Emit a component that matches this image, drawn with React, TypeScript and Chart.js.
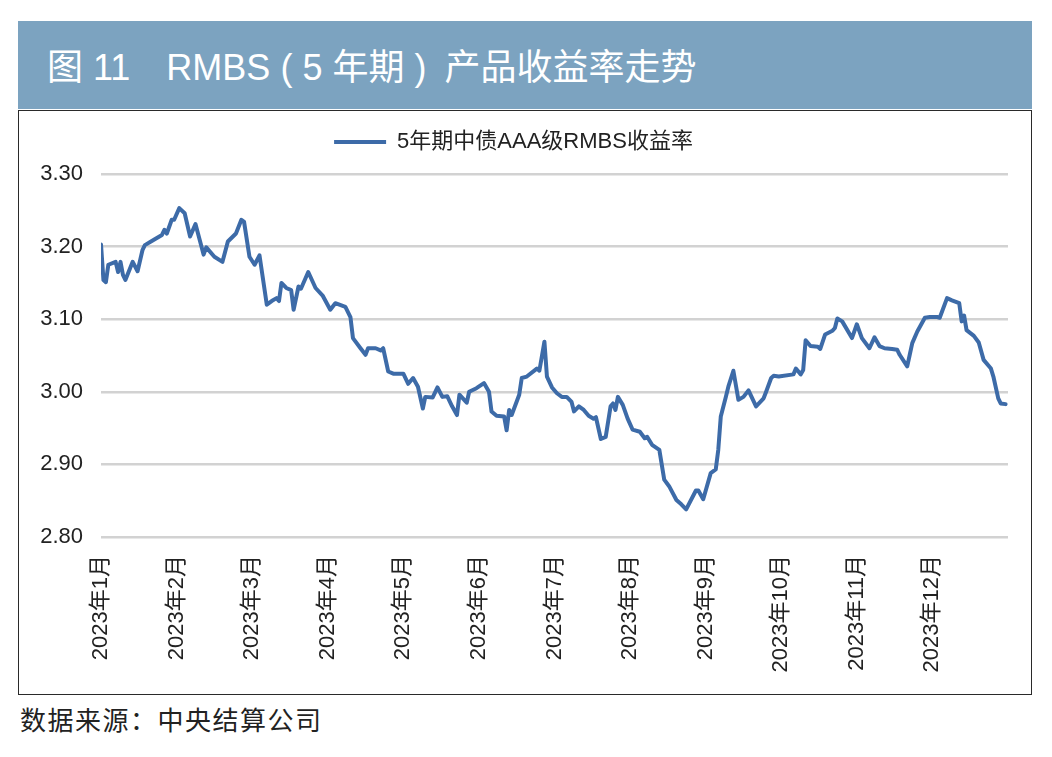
import React, { useEffect, useRef } from "react";
import { Chart, registerables } from "chart.js";

Chart.register(...registerables);

const titleText = "图 11\u3000RMBS ( 5 年期 )\u2002产品收益率走势";
const sourceText = "数据来源：中央结算公司";
const seriesName = "5年期中债AAA级RMBS收益率";

const monthLabels = [
  "2023年1月", "2023年2月", "2023年3月", "2023年4月", "2023年5月", "2023年6月",
  "2023年7月", "2023年8月", "2023年9月", "2023年10月", "2023年11月", "2023年12月",
];

const yTickValues = [2.8, 2.9, 3.0, 3.1, 3.2, 3.3];

const dates = [
  "2023-01-01", "2023-01-02", "2023-01-03", "2023-01-04", "2023-01-07", "2023-01-08", "2023-01-09", "2023-01-10",
  "2023-01-11", "2023-01-14", "2023-01-16", "2023-01-18", "2023-01-19", "2023-01-22", "2023-01-26", "2023-01-27",
  "2023-01-28", "2023-01-30", "2023-01-31",
  "2023-02-02", "2023-02-04", "2023-02-06", "2023-02-08", "2023-02-11", "2023-02-12", "2023-02-15", "2023-02-18",
  "2023-02-20", "2023-02-23", "2023-02-25", "2023-02-26", "2023-02-28",
  "2023-03-02", "2023-03-04", "2023-03-07", "2023-03-09", "2023-03-11", "2023-03-12", "2023-03-13", "2023-03-15",
  "2023-03-17", "2023-03-18", "2023-03-20", "2023-03-21", "2023-03-24", "2023-03-27", "2023-03-30",
  "2023-04-02", "2023-04-04", "2023-04-08", "2023-04-10", "2023-04-11", "2023-04-14", "2023-04-16", "2023-04-17",
  "2023-04-20", "2023-04-22", "2023-04-23", "2023-04-25", "2023-04-27",
  "2023-05-01", "2023-05-03", "2023-05-05", "2023-05-07", "2023-05-09", "2023-05-10", "2023-05-13", "2023-05-15",
  "2023-05-17", "2023-05-19", "2023-05-21", "2023-05-23", "2023-05-24", "2023-05-27", "2023-05-28", "2023-05-31",
  "2023-06-03", "2023-06-05", "2023-06-06", "2023-06-08", "2023-06-11", "2023-06-12", "2023-06-13", "2023-06-14",
  "2023-06-17", "2023-06-18", "2023-06-20", "2023-06-24", "2023-06-25", "2023-06-27", "2023-06-28", "2023-06-30",
  "2023-07-02", "2023-07-04", "2023-07-06", "2023-07-08", "2023-07-09", "2023-07-11", "2023-07-13", "2023-07-15",
  "2023-07-17", "2023-07-18", "2023-07-20", "2023-07-22", "2023-07-24", "2023-07-25", "2023-07-26", "2023-07-27",
  "2023-07-29", "2023-07-31",
  "2023-08-02", "2023-08-05", "2023-08-07", "2023-08-08", "2023-08-10", "2023-08-13", "2023-08-15", "2023-08-17",
  "2023-08-20", "2023-08-22", "2023-08-24", "2023-08-28", "2023-08-29", "2023-08-31",
  "2023-09-03", "2023-09-05", "2023-09-06", "2023-09-07", "2023-09-09", "2023-09-10", "2023-09-12", "2023-09-14",
  "2023-09-16", "2023-09-18", "2023-09-21", "2023-09-24", "2023-09-25", "2023-09-27", "2023-09-28", "2023-09-30",
  "2023-10-06", "2023-10-07", "2023-10-09", "2023-10-10", "2023-10-11", "2023-10-13", "2023-10-16", "2023-10-17",
  "2023-10-19", "2023-10-22", "2023-10-23", "2023-10-24", "2023-10-26", "2023-10-30",
  "2023-11-01", "2023-11-03", "2023-11-06", "2023-11-08", "2023-11-10", "2023-11-12", "2023-11-15", "2023-11-17",
  "2023-11-18", "2023-11-21", "2023-11-22", "2023-11-23", "2023-11-25", "2023-11-28", "2023-11-30",
  "2023-12-03", "2023-12-04", "2023-12-07", "2023-12-09", "2023-12-12", "2023-12-13", "2023-12-14", "2023-12-15",
  "2023-12-18", "2023-12-20", "2023-12-22", "2023-12-25", "2023-12-26", "2023-12-28", "2023-12-29", "2023-12-31",
];

const yields = [
  3.203, 3.154, 3.151, 3.175, 3.179, 3.165, 3.179, 3.161,
  3.154, 3.179, 3.166, 3.195, 3.202, 3.208, 3.216, 3.223,
  3.218, 3.237, 3.237,
  3.253, 3.246, 3.214, 3.231, 3.189, 3.199, 3.186, 3.179,
  3.207, 3.218, 3.237, 3.234, 3.186,
  3.175, 3.188, 3.120, 3.125, 3.129, 3.125, 3.150, 3.143,
  3.140, 3.113, 3.145, 3.142, 3.165, 3.143, 3.132,
  3.113, 3.122, 3.117, 3.103, 3.074, 3.060, 3.051, 3.060,
  3.060, 3.057, 3.060, 3.028, 3.025,
  3.025, 3.011, 3.019, 3.007, 2.977, 2.993, 2.992, 3.006,
  2.993, 2.994, 2.980, 2.968, 2.996, 2.985, 3.000, 3.005,
  3.012, 3.000, 2.973, 2.967, 2.966, 2.947, 2.975, 2.968,
  2.996, 3.019, 3.021, 3.032, 3.029, 3.069, 3.021, 3.006,
  2.998, 2.993, 2.993, 2.986, 2.973, 2.980, 2.975, 2.967,
  2.963, 2.965, 2.935, 2.938, 2.980, 2.984, 2.975, 2.993,
  2.982, 2.963,
  2.948, 2.945, 2.936, 2.938, 2.927, 2.920, 2.879, 2.870,
  2.851, 2.845, 2.838, 2.864, 2.864, 2.852,
  2.888, 2.893, 2.920, 2.966, 2.993, 3.007, 3.029, 2.989,
  2.993, 3.002, 2.980, 2.991, 3.000, 3.019, 3.022, 3.021,
  3.024, 3.032, 3.024, 3.030, 3.071, 3.063, 3.062, 3.059,
  3.079, 3.084, 3.088, 3.101, 3.097, 3.074,
  3.093, 3.074, 3.060, 3.075, 3.063, 3.060, 3.059, 3.058,
  3.051, 3.035, 3.051, 3.067, 3.083, 3.102, 3.103,
  3.103, 3.102, 3.129, 3.126, 3.122, 3.097, 3.105, 3.085,
  3.077, 3.068, 3.044, 3.032, 3.021, 2.991, 2.984, 2.983,
];

const daysInMonth = [31, 28, 31, 30, 31, 30, 31, 31, 30, 31, 30, 31];

function monthPosition(date: string): number {
  const parts = date.split("-").map(Number);
  const m = parts[1];
  const d = parts[2];
  return m - 1 + (d - 1) / daysInMonth[m - 1];
}

const FONT_FAMILY = "'Liberation Sans', 'Noto Sans CJK SC', sans-serif";
const LINE_COLOR = "#3d6ba8";

export default function App() {
  const canvasRef = useRef<HTMLCanvasElement | null>(null);

  useEffect(() => {
    const canvas = canvasRef.current;
    if (!canvas) return;

    const legendGap = {
      id: "legendGap",
      beforeInit(chart: any) {
        const lg = chart.legend;
        if (!lg) return;
        const origFit = lg.fit;
        lg.fit = function () {
          origFit.call(this);
          this.height += 11;
        };
      },
    };

    const chart = new Chart(canvas, {
      type: "line",
      data: {
        datasets: [
          {
            label: seriesName,
            data: dates.map((d, i) => ({ x: monthPosition(d), y: yields[i] })),
            borderColor: LINE_COLOR,
            backgroundColor: LINE_COLOR,
            borderWidth: 4,
            pointRadius: 0,
            tension: 0,
            borderJoinStyle: "round",
            borderCapStyle: "round",
          },
        ],
      },
      options: {
        animation: false,
        responsive: false,
        maintainAspectRatio: false,
        devicePixelRatio: 1,
        layout: { padding: { left: 0, right: 23, top: 0, bottom: 0 } },
        plugins: {
          tooltip: { enabled: false },
          legend: {
            position: "top",
            labels: {
              usePointStyle: true,
              pointStyle: "line",
              pointStyleWidth: 52,
              padding: 20,
              color: "#222",
              font: { family: FONT_FAMILY, size: 22 },
            },
          },
        },
        scales: {
          x: {
            type: "linear",
            min: 0,
            max: 12,
            afterBuildTicks: (scale: any) => {
              scale.ticks = monthLabels.map((_, i) => ({ value: i }));
            },
            afterFit: (scale: any) => {
              scale.height = 157;
            },
            ticks: {
              autoSkip: false,
              maxRotation: 90,
              minRotation: 90,
              padding: 18,
              color: "#222",
              font: { family: FONT_FAMILY, size: 22 },
              callback: (value: any) => monthLabels[Math.round(Number(value))] ?? "",
            },
            grid: { display: false, drawTicks: false },
            border: { display: false },
          },
          y: {
            min: 2.8,
            max: 3.3,
            afterBuildTicks: (scale: any) => {
              scale.ticks = yTickValues.map((v) => ({ value: v }));
            },
            afterFit: (scale: any) => {
              scale.width = 82;
            },
            ticks: {
              padding: 18,
              color: "#222",
              font: { family: FONT_FAMILY, size: 22 },
              callback: (value: any) => Number(value).toFixed(2),
            },
            grid: { color: "#d2d2d2", lineWidth: 2.5, drawTicks: false },
            border: { display: false },
          },
        },
      },
      plugins: [legendGap],
    } as any);

    return () => chart.destroy();
  }, []);

  return (
    <div
      style={{
        position: "fixed",
        left: 0,
        top: 0,
        width: 1052,
        height: 757,
        background: "#ffffff",
        overflow: "hidden",
      }}
    >
      <div
        style={{
          position: "absolute",
          left: 18,
          top: 21,
          width: 1014,
          height: 88,
          background: "#7ca3c0",
        }}
      >
        <div
          style={{
            position: "absolute",
            left: 29,
            top: 0,
            height: 88,
            lineHeight: "94px",
            color: "#ffffff",
            fontFamily: FONT_FAMILY,
            fontSize: 36,
            whiteSpace: "pre",
          }}
        >
          {titleText}
        </div>
      </div>
      <div
        style={{
          position: "absolute",
          left: 18,
          top: 110,
          width: 1012,
          height: 583,
          border: "1px solid #2a2a2a",
          background: "#ffffff",
        }}
      >
        <canvas
          ref={canvasRef}
          width={1012}
          height={583}
          style={{ display: "block", width: 1012, height: 583 }}
        />
      </div>
      <div
        style={{
          position: "absolute",
          left: 20,
          top: 700,
          lineHeight: "38px",
          color: "#222",
          fontFamily: "'Noto Sans CJK SC', sans-serif",
          fontSize: 26,
          letterSpacing: 1.5,
          whiteSpace: "pre",
        }}
      >
        {sourceText}
      </div>
    </div>
  );
}
